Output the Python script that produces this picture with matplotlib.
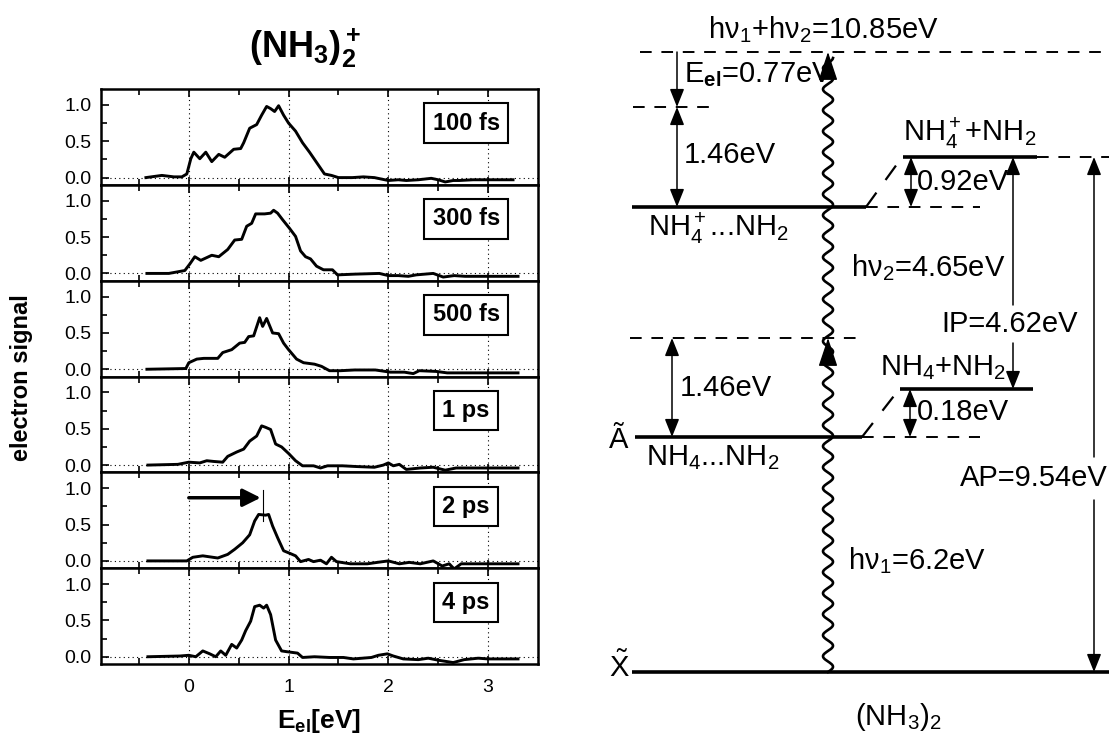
import matplotlib.pyplot as plt
import numpy as np

plt.rcParams['font.family'] = ['Liberation Sans', 'DejaVu Sans']
plt.rcParams['mathtext.fontset'] = 'custom'
plt.rcParams['mathtext.rm'] = 'Liberation Sans'
plt.rcParams['mathtext.it'] = 'Liberation Sans'
plt.rcParams['mathtext.bf'] = 'Liberation Sans:bold'

# --- photoelectron spectra (E_el in eV, normalised signal) ---
delays = ['100 fs', '300 fs', '500 fs', '1 ps', '2 ps', '4 ps']

e_100fs = [-0.43, -0.27, -0.15, -0.07, -0.02, 0.02, 0.05, 0.11, 0.17, 0.23, 0.30, 0.36, 0.45, 0.52, 0.55,
           0.61, 0.68, 0.73, 0.78, 0.82, 0.86, 0.90, 0.95, 1.00, 1.07, 1.14, 1.21, 1.29, 1.36, 1.43, 1.50,
           1.64, 1.75, 1.86, 2.00, 2.10, 2.18, 2.30, 2.43, 2.50, 2.57, 2.65, 2.71, 2.85, 2.96, 3.10, 3.25]
s_100fs = [0.0, 0.03, 0.01, 0.01, 0.05, 0.26, 0.35, 0.26, 0.35, 0.22, 0.32, 0.28, 0.39, 0.40, 0.48,
           0.68, 0.73, 0.86, 0.98, 0.95, 0.91, 0.99, 0.86, 0.75, 0.64, 0.48, 0.35, 0.19, 0.05, 0.03, 0.0,
           0.0, 0.01, 0.0, -0.04, -0.03, -0.04, -0.03, -0.01, -0.03, -0.06, -0.04, -0.04, -0.03, -0.03, -0.03, -0.03]

e_300fs = [-0.42, -0.2, -0.04, 0.01, 0.06, 0.12, 0.23, 0.30, 0.39, 0.46, 0.53, 0.58, 0.63, 0.67, 0.76,
           0.82, 0.85, 0.89, 0.94, 1.01, 1.07, 1.12, 1.17, 1.22, 1.28, 1.35, 1.44, 1.49, 1.66, 1.91, 2.0,
           2.1, 2.2, 2.28, 2.45, 2.55, 2.66, 2.77, 2.9, 3.05, 3.3]
s_300fs = [0, 0, 0.04, 0.13, 0.23, 0.18, 0.25, 0.23, 0.33, 0.46, 0.47, 0.65, 0.69, 0.82, 0.82,
           0.83, 0.87, 0.83, 0.74, 0.62, 0.51, 0.31, 0.23, 0.20, 0.10, 0.05, 0.05, -0.02, -0.01, 0.0, -0.03,
           -0.03, -0.04, -0.02, 0.0, -0.05, -0.03, -0.04, -0.04, -0.04, -0.04]

e_500fs = [-0.42, -0.03, 0.0, 0.08, 0.15, 0.29, 0.34, 0.43, 0.51, 0.56, 0.60, 0.65, 0.71, 0.74, 0.78,
           0.84, 0.90, 0.95, 1.0, 1.08, 1.15, 1.26, 1.33, 1.41, 1.52, 1.66, 1.87, 2.02, 2.16, 2.25, 2.31,
           2.48, 2.59, 2.73, 2.9, 3.1, 3.3]
s_500fs = [0, 0.01, 0.09, 0.14, 0.15, 0.15, 0.23, 0.27, 0.36, 0.37, 0.45, 0.46, 0.71, 0.59, 0.70,
           0.50, 0.49, 0.36, 0.27, 0.14, 0.09, 0.07, 0.04, -0.02, -0.02, -0.01, -0.01, -0.04, -0.04, -0.06, -0.02,
           -0.03, -0.05, -0.05, -0.05, -0.05, -0.05]

e_1ps = [-0.41, -0.11, 0.0, 0.11, 0.18, 0.25, 0.34, 0.39, 0.48, 0.55, 0.61, 0.68, 0.73, 0.77, 0.82,
         0.87, 0.93, 1.0, 1.07, 1.14, 1.25, 1.32, 1.39, 1.54, 1.68, 1.86, 1.95, 2.0, 2.05, 2.11, 2.18,
         2.32, 2.45, 2.57, 2.68, 2.86, 3.0, 3.3]
s_1ps = [0, 0.01, 0.04, 0.03, 0.06, 0.05, 0.04, 0.12, 0.18, 0.22, 0.33, 0.40, 0.54, 0.52, 0.49,
         0.29, 0.25, 0.16, 0.06, -0.01, -0.01, -0.04, -0.01, -0.01, -0.02, -0.03, 0, 0.03, -0.01, 0.01, -0.06,
         -0.04, -0.03, -0.07, -0.04, -0.04, -0.04, -0.04]

e_2ps = [-0.41, -0.02, 0.04, 0.14, 0.29, 0.39, 0.46, 0.54, 0.61, 0.66, 0.70, 0.77, 0.80, 0.84, 0.89,
         0.95, 1.02, 1.07, 1.12, 1.2, 1.25, 1.32, 1.38, 1.43, 1.48, 1.62, 1.79, 1.89, 2.0, 2.11, 2.21,
         2.32, 2.45, 2.54, 2.61, 2.66, 2.73, 2.86, 3.05, 3.3]
s_2ps = [0, 0, 0.05, 0.07, 0.04, 0.09, 0.16, 0.25, 0.36, 0.55, 0.64, 0.63, 0.64, 0.48, 0.32,
         0.14, 0.10, 0.07, -0.01, 0.02, -0.01, 0.01, -0.04, 0.05, -0.01, -0.04, -0.04, -0.02, 0.0, -0.04, -0.02,
         -0.04, 0.0, -0.07, -0.04, -0.11, -0.04, -0.04, -0.04, -0.04]

e_4ps = [-0.41, -0.09, 0.0, 0.07, 0.14, 0.21, 0.27, 0.32, 0.37, 0.43, 0.48, 0.53, 0.57, 0.62, 0.66,
         0.71, 0.75, 0.78, 0.82, 0.87, 0.93, 0.98, 1.09, 1.14, 1.26, 1.41, 1.55, 1.65, 1.83, 1.90, 1.99,
         2.05, 2.15, 2.3, 2.4, 2.51, 2.65, 2.76, 2.9, 3.0, 3.3]
s_4ps = [0, 0.01, 0.02, 0.0, 0.08, 0.04, 0.0, 0.08, 0.02, 0.17, 0.12, 0.23, 0.36, 0.49, 0.69,
         0.71, 0.67, 0.71, 0.58, 0.23, 0.08, 0.07, 0.05, -0.01, 0.0, -0.01, -0.01, -0.03, -0.01, 0.02, 0.04,
         0.01, -0.03, -0.04, -0.02, -0.05, -0.08, -0.04, -0.02, -0.03, -0.03]

energies = [e_100fs, e_300fs, e_500fs, e_1ps, e_2ps, e_4ps]
signals = [s_100fs, s_300fs, s_500fs, s_1ps, s_2ps, s_4ps]

# shift arrow in the 2 ps panel: from 0 eV to the peak
shift_start, shift_end, shift_level = 0.0, 0.74, 0.87

# --- energies of the level scheme (eV) ---
hv1 = 6.2
hv2 = 4.65
E_el = 0.77
dE_vib = 1.46
dE_ion = 0.92
dE_neu = 0.18
IP = 4.62
AP = 9.54

fig = plt.figure(figsize=(11.09, 7.40), dpi=100)

# ================= left: stacked spectra =================
axs = fig.subplots(6, 1, sharex=True,
                   gridspec_kw=dict(hspace=0, left=0.0911, right=0.4851, top=0.8797, bottom=0.1027))
for ax, e, s, lab in zip(axs, energies, signals, delays):
    for xv in [0, 1, 2, 3]:
        ax.axvline(xv, color='k', ls=(0, (1, 3)), lw=0.8)
    ax.axhline(0, color='k', ls=(0, (1, 3)), lw=0.8)
    ax.plot(e, s, color='k', lw=2.1)
    ax.set_xlim(-0.88, 3.5)
    ax.set_ylim(-0.1, 1.22)
    ax.set_yticks([0.0, 0.5, 1.0])
    ax.set_yticklabels(['0.0', '0.5', '1.0'])
    ax.set_yticks([0.25, 0.75], minor=True)
    ax.set_xticks([0, 1, 2, 3])
    ax.set_xticks([-0.5, 0.5, 1.5, 2.5], minor=True)
    ax.tick_params(which='both', direction='in', top=True, right=False, labelsize=14, width=1.2)
    ax.tick_params(axis='y', pad=7)
    ax.tick_params(axis='x', pad=11)
    ax.tick_params(which='major', length=6)
    ax.tick_params(which='minor', length=4)
    for sp in ax.spines.values():
        sp.set_linewidth(1.8)
    ax.text(2.78, 0.75, lab, ha='center', va='center', fontsize=17, fontweight='bold',
            bbox=dict(boxstyle='square,pad=0.35', fc='white', ec='k', lw=1.5))

axs[4].annotate('', xy=(shift_end - 0.02, shift_level), xytext=(shift_start, shift_level),
                arrowprops=dict(arrowstyle='-|>,head_length=0.6,head_width=0.3', mutation_scale=18,
                                lw=2.5, color='k', shrinkA=0, shrinkB=0))
axs[4].plot([shift_end, shift_end], [0.55, 0.97], color='k', lw=0.8)

axs[-1].set_xlabel(r'$\mathbf{E_{el}[eV]}$', fontsize=19, labelpad=8)
fig.text(0.019, 0.49, 'electron signal', rotation=90, ha='center', va='center',
         fontsize=17, fontweight='bold')
fig.text(0.275, 0.935, r'$\mathbf{(NH_3)_2^+}$', ha='center', va='center', fontsize=26)

# ================= right: level scheme (schematic, not to scale) =================
rx = fig.add_axes([560 / 1109, 0, 549 / 1109, 1])
rx.set_xlim(560, 1109)
rx.set_ylim(740, 0)
rx.axis('off')

# schematic heights of the levels (figure layout, from top)
y_top, y_vib, y_ion_d, y_ion = 52, 107, 157, 207
y_exc, y_neu_d, y_A, y_X = 338, 389, 437, 672
x_wave = 828

solid = dict(color='k', lw=2.6, solid_capstyle='butt')
dash = dict(color='k', lw=1.4, dashes=(6, 5))

rx.plot([632, 1109], [y_X, y_X], **solid)
rx.plot([635, 862], [y_A, y_A], **solid)
rx.plot([632, 866], [y_ion, y_ion], **solid)
rx.plot([903, 1037], [y_ion_d, y_ion_d], **solid)
rx.plot([900, 1033], [y_neu_d, y_neu_d], **solid)

rx.plot([640, 1109], [y_top, y_top], **dash)
rx.plot([633, 716], [y_vib, y_vib], **dash)
rx.plot([630, 862], [y_exc, y_exc], **dash)
rx.plot([866, 980], [y_ion, y_ion], **dash)
rx.plot([862, 980], [y_A, y_A], **dash)
rx.plot([1037, 1109], [y_ion_d, y_ion_d], **dash)
rx.plot([866, 900], [y_ion, y_ion_d + 3], color='k', lw=1.6, dashes=(8, 7))
rx.plot([862, 897], [y_A, y_neu_d + 3], color='k', lw=1.6, dashes=(8, 7))


def arrow(x, y0, y1, style='-|>'):
    rx.annotate('', xy=(x, y1), xytext=(x, y0),
                arrowprops=dict(arrowstyle=style + ',head_length=0.55,head_width=0.22', mutation_scale=20,
                                lw=1.1, color='k', shrinkA=0, shrinkB=0))


arrow(677, y_top, y_vib)
arrow(677, y_vib, y_ion, '<|-|>')
arrow(911, y_ion_d, y_ion, '<|-|>')
arrow(1013, 305, y_ion_d)
arrow(1013, 343, y_neu_d)
arrow(1094, 457, y_ion_d)
arrow(1094, 500, y_X)
arrow(672, y_exc, y_A, '<|-|>')
arrow(910, y_neu_d, y_A, '<|-|>')

# photon (wavy) arrows
wy = np.linspace(y_X, y_top + 6, 800)
wx = x_wave + 5 * np.sin(2 * np.pi * (y_X - wy) / 21)
rx.plot(wx, wy, color='k', lw=1.9)
for yt in [y_exc, y_top]:
    rx.annotate('', xy=(x_wave, yt), xytext=(x_wave, yt + 18),
                arrowprops=dict(arrowstyle='-|>,head_length=0.9,head_width=0.3', mutation_scale=20,
                                lw=1, color='k', shrinkA=0, shrinkB=0))

fs = 21
rx.text(823, 30, f'hν$_1$+hν$_2$={hv1 + hv2:.2f}eV', ha='center', va='center', fontsize=fs)
rx.text(684, 75, f'E$_{{\\mathbf{{el}}}}$={E_el}eV', ha='left', va='center', fontsize=fs)
rx.text(684, 155, f'{dE_vib}eV', ha='left', va='center', fontsize=fs)
rx.text(648, 228, r'NH$_4^+$...NH$_2$', ha='left', va='center', fontsize=fs)
rx.text(903, 133, r'NH$_4^+$+NH$_2$', ha='left', va='center', fontsize=fs)
rx.text(917, 182, f'{dE_ion}eV', ha='left', va='center', fontsize=fs)
rx.text(851, 268, f'hν$_2$={hv2}eV', ha='left', va='center', fontsize=fs)
rx.text(1010, 324, f'IP={IP}eV', ha='center', va='center', fontsize=fs)
rx.text(880, 368, r'NH$_4$+NH$_2$', ha='left', va='center', fontsize=fs)
rx.text(680, 388, f'{dE_vib}eV', ha='left', va='center', fontsize=fs)
rx.text(917, 412, f'{dE_neu}eV', ha='left', va='center', fontsize=fs)
rx.text(619, 440, 'Ã', ha='center', va='center', fontsize=fs)
rx.text(646, 458, r'NH$_4$...NH$_2$', ha='left', va='center', fontsize=fs)
rx.text(1108, 478, f'AP={AP}eV', ha='right', va='center', fontsize=fs)
rx.text(848, 561, f'hν$_1$={hv1}eV', ha='left', va='center', fontsize=fs)
rx.text(619, 667, r'$\tilde{\mathrm{X}}$', ha='center', va='center', fontsize=fs)
rx.text(898, 717, r'(NH$_3$)$_2$', ha='center', va='center', fontsize=fs)

fig.savefig('out.png', dpi=100)
